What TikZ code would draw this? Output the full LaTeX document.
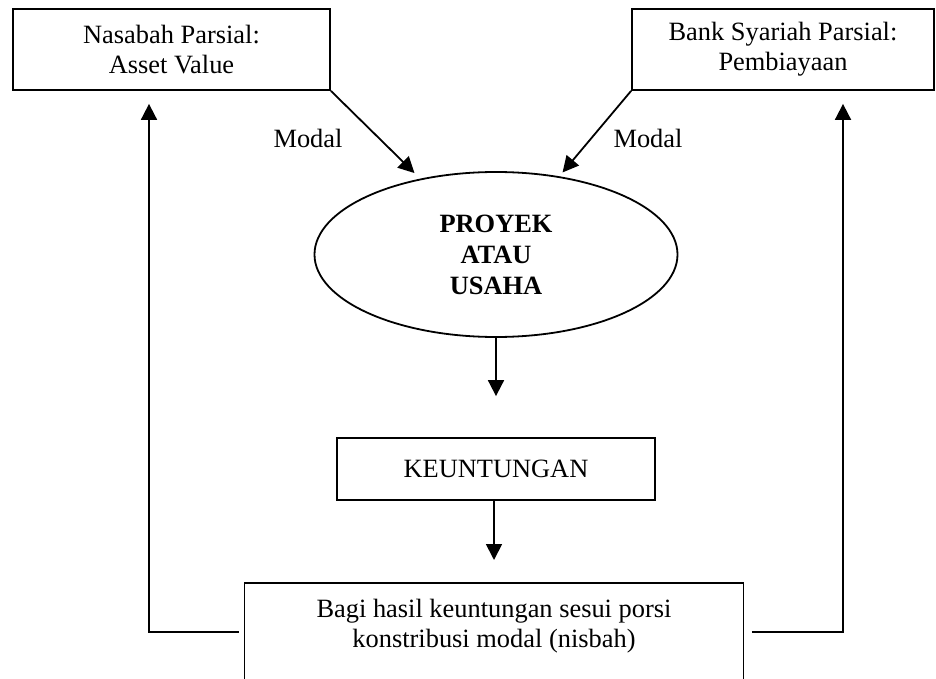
\documentclass[tikz,border=0pt]{standalone}
\usepackage{fontspec}
\setmainfont{Liberation Serif}
\usetikzlibrary{shapes, positioning, arrows.meta}
\tikzstyle{txt}=[font=\fontsize{13.2}{15}\selectfont]
\tikzstyle{box}=[txt, draw=black, line width=0.9pt, align=center]
\tikzstyle{arrow}=[-{Triangle[length=8pt,width=8pt]}, line width=0.9pt, draw=black]

\begin{document}
\begin{tikzpicture}[x=0.5pt, y=-0.5pt]
      \useasboundingbox (0,0) rectangle (936,679);
      % pemilik modal
      \node[box, minimum width=158.5pt, minimum height=40.5pt] (nasabah) at (171.5,49.5)
        {Nasabah Parsial:\\Asset Value};
      \node[box, minimum width=151pt, minimum height=40.5pt] (bank) at (783,49.5)
        {Bank Syariah Parsial:\\Pembiayaan};
      \node[txt] (modalL) at (308,138) {Modal};
      \node[txt] (modalR) at (648,138) {Modal};

      \node[box, ellipse, inner sep=0pt, minimum width=181.5pt, minimum height=82.5pt,
        font=\fontsize{13.2}{15.5}\selectfont\bfseries] (proyek) at (496,254.5)
        {PROYEK\\ATAU\\USAHA};
      \node[box, minimum width=159pt, minimum height=31pt] (untung) at (496,469)
        {KEUNTUNGAN};
      \node[box, anchor=north, inner ysep=8.25pt, minimum width=249.5pt] (bagi) at (494,582)
        {Bagi hasil keuntungan sesui porsi\\konstribusi modal (nisbah)\\\mbox{}};

      % aliran
      \draw[arrow, shorten >=4pt] (nasabah.south east) -- (proyek.135);
      \draw[arrow, shorten >=2.5pt] (bank.south west) -- (proyek.51);
      \draw[arrow, shorten >=20.5pt] (proyek.south) -- (proyek.south |- untung.north);
      \draw[arrow, shorten >=11pt] (bagi.north |- untung.south) -- (bagi.north);
      \draw[arrow, shorten >=6.5pt] ([xshift=-2.5pt,yshift=3.4pt]bagi.west)
        -| ([xshift=-11.25pt]nasabah.south);
      \draw[arrow, shorten >=6.5pt] ([xshift=3.75pt,yshift=3.4pt]bagi.east)
        -| ([xshift=30pt]bank.south);
\end{tikzpicture}
\end{document}
